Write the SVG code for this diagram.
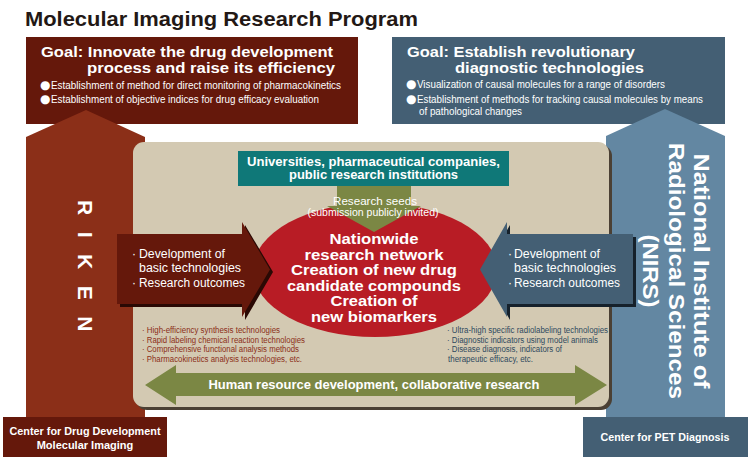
<svg xmlns="http://www.w3.org/2000/svg" width="750" height="469" viewBox="0 0 750 469">
<style>
text{font-family:"Liberation Sans",Arial,sans-serif;fill:#fff}
.title{font-size:21px;font-weight:bold;fill:#231815}
.gh{font-size:14px;font-weight:bold}
.gb{font-size:10.5px}
.dot{font-size:12px;font-family:"DejaVu Sans",sans-serif}
.uni{font-size:12px;font-weight:bold}
.net{font-size:14.5px;font-weight:bold;text-anchor:middle}
.seed{font-size:11px;text-anchor:middle}
.arr{font-size:12px}
.ls{font-size:8.5px;fill:#8b2e18}
.rs{font-size:8.5px;fill:#2f4a60}
.hr{font-size:13px;font-weight:bold;text-anchor:middle}
.ctr{font-size:11px;font-weight:bold;text-anchor:middle}
.vert{font-size:22px;font-weight:bold;text-anchor:middle}
</style>
<rect width="750" height="469" fill="#fff"/>
<g id="title"><text class="title" x="25" y="26" textLength="393" lengthAdjust="spacingAndGlyphs">Molecular Imaging Research Program</text></g>

<g id="goal-left">
<rect x="26" y="37" width="332" height="87" fill="#65180b"/>
<text class="gh" x="41" y="57" textLength="292" lengthAdjust="spacingAndGlyphs">Goal: Innovate the drug development</text>
<text class="gh" x="87" y="72.5" textLength="248" lengthAdjust="spacingAndGlyphs">process and raise its efficiency</text>
<text class="dot" x="40" y="89">●</text>
<text class="gb" x="51" y="89" textLength="290" lengthAdjust="spacingAndGlyphs">Establishment of method for direct monitoring of pharmacokinetics</text>
<text class="dot" x="40" y="103">●</text>
<text class="gb" x="51" y="103" textLength="268" lengthAdjust="spacingAndGlyphs">Establishment of objective indices for drug efficacy evaluation</text>
</g>

<g id="goal-right">
<rect x="392" y="37" width="333" height="87" fill="#445f74"/>
<text class="gh" x="407" y="57" textLength="228" lengthAdjust="spacingAndGlyphs">Goal: Establish revolutionary</text>
<text class="gh" x="455" y="73" textLength="189" lengthAdjust="spacingAndGlyphs">diagnostic technologies</text>
<text class="dot" x="406" y="88">●</text>
<text class="gb" x="417" y="88" textLength="248" lengthAdjust="spacingAndGlyphs">Visualization of causal molecules for a range of disorders</text>
<text class="dot" x="406" y="103">●</text>
<text class="gb" x="417" y="103" textLength="286" lengthAdjust="spacingAndGlyphs">Establishment of methods for tracking causal molecules by means</text>
<text class="gb" x="419" y="115" textLength="103" lengthAdjust="spacingAndGlyphs">of pathological changes</text>
</g>

<g id="riken">
<polygon points="86,110 145,137 145,420 26,420 26,137" fill="#8b2f18"/>
<text class="vert" transform="translate(78,200) rotate(90)" x="0" y="0" style="text-anchor:start;font-size:21px;letter-spacing:16.5px">RIKEN</text>
</g>

<g id="nirs">
<polygon points="665,109 725,136 725,420 606,420 606,136" fill="#6387a2"/>
<g transform="translate(0,271)">
<text class="vert" transform="translate(694,0) rotate(90)" x="0" y="0" textLength="235" lengthAdjust="spacingAndGlyphs">National Institute of</text>
<text class="vert" transform="translate(669,0) rotate(90)" x="0" y="0" textLength="256" lengthAdjust="spacingAndGlyphs">Radiological Sciences</text>
<text class="vert" transform="translate(643,0) rotate(90)" x="0" y="0" textLength="73" lengthAdjust="spacingAndGlyphs">(NIRS)</text>
</g>
</g>

<g id="panel">
<rect x="136" y="145" width="476" height="265" rx="11" fill="#4b4034"/>
<rect x="133" y="142" width="476" height="265" rx="11" fill="#d3c9b2"/>
</g>

<g id="universities">
<rect x="238" y="151" width="271" height="35" fill="#0f7878"/>
<text class="uni" x="247" y="166" textLength="253" lengthAdjust="spacingAndGlyphs">Universities, pharmaceutical companies,</text>
<text class="uni" x="289" y="178.5" textLength="169" lengthAdjust="spacingAndGlyphs">public research institutions</text>
</g>

<g id="network">
<ellipse cx="375" cy="270" rx="122" ry="67" fill="#b81c25"/>
</g>

<g id="connectors">
<g id="seeds-arrow">
<polygon points="337,186 411,186 411,206 421,206 374,232 327,206 337,206" fill="#7b8744"/>
<text class="seed" x="375" y="205" textLength="84" lengthAdjust="spacingAndGlyphs">Research seeds</text>
<text class="seed" x="373" y="216" style="font-size:10.5px" textLength="131" lengthAdjust="spacingAndGlyphs">(submission publicly invited)</text>
</g>
<g id="riken-arrow">
<polygon points="120,237 245,237 245,225 273,272 245,320 245,307 120,307" fill="#2a0904"/>
<polygon points="117,234 242,234 242,222 270,269.5 242,317 242,304 117,304" fill="#65180b"/>
<text class="arr" x="132" y="258">·</text>
<text class="arr" x="139" y="258" textLength="86" lengthAdjust="spacingAndGlyphs">Development of</text>
<text class="arr" x="139" y="272" textLength="102" lengthAdjust="spacingAndGlyphs">basic technologies</text>
<text class="arr" x="132" y="287">·</text>
<text class="arr" x="139" y="287" textLength="106" lengthAdjust="spacingAndGlyphs">Research outcomes</text>
</g>
<g id="nirs-arrow">
<polygon points="636,237 510,237 510,225 483,272 510,320 510,307 636,307" fill="#16212b"/>
<polygon points="633,234 507,234 507,222 480,269.5 507,317 507,304 633,304" fill="#445f74"/>
<text class="arr" x="508" y="258">·</text>
<text class="arr" x="514" y="258" textLength="86" lengthAdjust="spacingAndGlyphs">Development of</text>
<text class="arr" x="514" y="272" textLength="102" lengthAdjust="spacingAndGlyphs">basic technologies</text>
<text class="arr" x="508" y="287">·</text>
<text class="arr" x="514" y="287" textLength="106" lengthAdjust="spacingAndGlyphs">Research outcomes</text>
</g>
<g id="hr-arrow">
<polygon points="145,385 176,365 176,373 575,373 575,365 607,385 575,405 575,396 176,396 176,405" fill="#7b8744"/>
<text class="hr" x="374" y="389" textLength="331" lengthAdjust="spacingAndGlyphs">Human resource development, collaborative research</text>
</g>
</g>

<g id="network-text">
<text class="net" x="374" y="244" textLength="89" lengthAdjust="spacingAndGlyphs">Nationwide</text>
<text class="net" x="374" y="259.5" textLength="139" lengthAdjust="spacingAndGlyphs">research network</text>
<text class="net" x="374" y="275" textLength="166" lengthAdjust="spacingAndGlyphs">Creation of new drug</text>
<text class="net" x="374" y="290.5" textLength="174" lengthAdjust="spacingAndGlyphs">candidate compounds</text>
<text class="net" x="374" y="306" textLength="87" lengthAdjust="spacingAndGlyphs">Creation of</text>
<text class="net" x="374" y="321.5" textLength="126" lengthAdjust="spacingAndGlyphs">new biomarkers</text>
</g>

<g id="riken-list">
<text class="ls" x="142" y="333" textLength="138" lengthAdjust="spacingAndGlyphs">· High-efficiency synthesis technologies</text>
<text class="ls" x="142" y="342.5" textLength="163" lengthAdjust="spacingAndGlyphs">· Rapid labeling chemical reaction technologies</text>
<text class="ls" x="142" y="352" textLength="157" lengthAdjust="spacingAndGlyphs">· Comprehensive functional analysis methods</text>
<text class="ls" x="142" y="361.5" textLength="160" lengthAdjust="spacingAndGlyphs">· Pharmacokinetics analysis technologies, etc.</text>
</g>

<g id="nirs-list">
<text class="rs" x="447" y="333" textLength="161" lengthAdjust="spacingAndGlyphs">· Ultra-high specific radiolabeling technologies</text>
<text class="rs" x="447" y="342.5" textLength="151" lengthAdjust="spacingAndGlyphs">· Diagnostic indicators using model animals</text>
<text class="rs" x="447" y="352" textLength="115" lengthAdjust="spacingAndGlyphs">· Disease diagnosis, indicators of</text>
<text class="rs" x="448" y="361.5" textLength="85" lengthAdjust="spacingAndGlyphs">therapeutic efficacy, etc.</text>
</g>

<g id="center-drug">
<rect x="3" y="417" width="164" height="40" fill="#65180b"/>
<text class="ctr" x="85" y="435" textLength="151" lengthAdjust="spacingAndGlyphs">Center for Drug Development</text>
<text class="ctr" x="85" y="449">Molecular Imaging</text>
</g>

<g id="center-pet">
<rect x="583" y="417" width="165" height="40" fill="#445f74"/>
<text class="ctr" x="665" y="441" textLength="129" lengthAdjust="spacingAndGlyphs">Center for PET Diagnosis</text>
</g>
</svg>
